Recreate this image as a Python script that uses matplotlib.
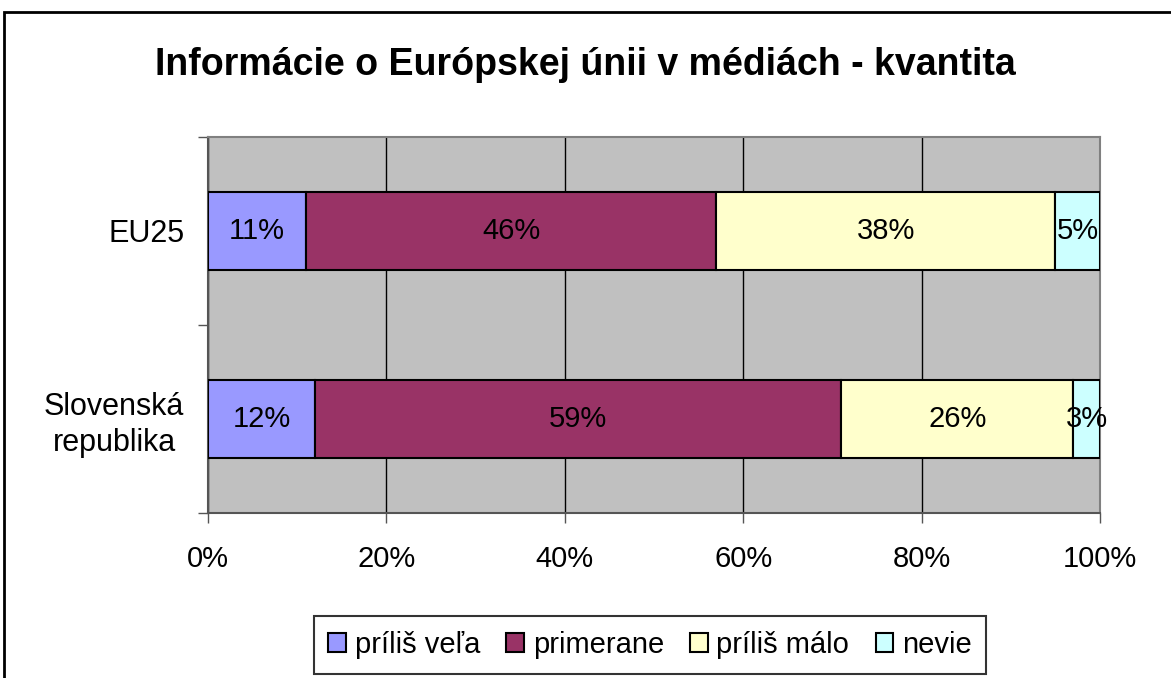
import matplotlib
matplotlib.use("Agg")
import matplotlib.pyplot as plt
from matplotlib.patches import Rectangle
import numpy as np

categories = ["Slovenská\nrepublika", "EU25"]
series_names = ["príliš veľa", "primerane", "príliš málo", "nevie"]
values = {
    "príliš veľa": [12, 11],
    "primerane": [59, 46],
    "príliš málo": [26, 38],
    "nevie": [3, 5],
}
colors = ["#9999FF", "#993366", "#FFFFCC", "#CCFFFF"]
xticks = [0, 20, 40, 60, 80, 100]
xticklabels = ["0%", "20%", "40%", "60%", "80%", "100%"]

plt.rcParams['font.family'] = ['Liberation Sans', 'DejaVu Sans']

W, H = 1171, 678
fig = plt.figure(figsize=(W / 100, H / 100), dpi=100)
ax = fig.add_axes([208 / W, 1 - 513 / H, (1100 - 208) / W, (513 - 137) / H])

# figure border (clipped at right and bottom)
fig.patches.append(Rectangle((4 / W, -0.05), 1.2, 1 - 12 / H + 0.05, transform=fig.transFigure,
                             fill=False, edgecolor="black", linewidth=2, zorder=0))

ax.set_facecolor("#C0C0C0")
y = np.arange(len(categories))
left = np.zeros(len(categories))
for name, col in zip(series_names, colors):
    vals = np.array(values[name], dtype=float)
    bars = ax.barh(y, vals, left=left, height=0.41, color=col, edgecolor="black",
                   linewidth=1.5, label=name, zorder=3)
    for b, v in zip(bars, vals):
        ax.text(b.get_x() + b.get_width() / 2, b.get_y() + b.get_height() / 2,
                f"{int(v)}%", ha="center", va="center", fontsize=21, zorder=4)
    left += vals

ax.set_xlim(0, 100)
ax.set_ylim(-0.5, 1.5)
ax.set_xticks(xticks)
ax.set_xticklabels(xticklabels, fontsize=21)
ax.xaxis.grid(True, color="black", linewidth=1, zorder=1)
ax.set_axisbelow(True)

ax.set_yticks([-0.5, 0.5, 1.5])
ax.set_yticklabels([])
ax.set_yticks(y, minor=True)
ax.set_yticklabels(categories, minor=True, fontsize=22, multialignment="center",
                   linespacing=1.25)
ax.tick_params(axis="y", which="minor", length=0, pad=17)
ax.tick_params(axis="y", which="major", length=7, direction="out", width=1, color="#555555")
ax.tick_params(axis="x", length=7, direction="out", width=1, pad=16, color="#555555")

for s in ["top", "right"]:
    ax.spines[s].set_color("#808080")
    ax.spines[s].set_linewidth(1.5)
for s in ["left", "bottom"]:
    ax.spines[s].set_color("#555555")
    ax.spines[s].set_linewidth(1.5)

fig.text(585 / W, 1 - 65 / H, "Informácie o Európskej únii v médiách - kvantita",
         ha="center", va="center", fontsize=27, fontweight="bold")

leg = fig.legend(loc="center", bbox_to_anchor=(650 / W, 1 - 645 / H), ncol=4, fontsize=21,
                 frameon=True, fancybox=False, edgecolor="black", handlelength=0.6,
                 handleheight=0.6, handletextpad=0.3, columnspacing=0.9, borderpad=0.5)
leg.get_frame().set_linewidth(1.5)

fig.savefig("out.png", dpi=100)
